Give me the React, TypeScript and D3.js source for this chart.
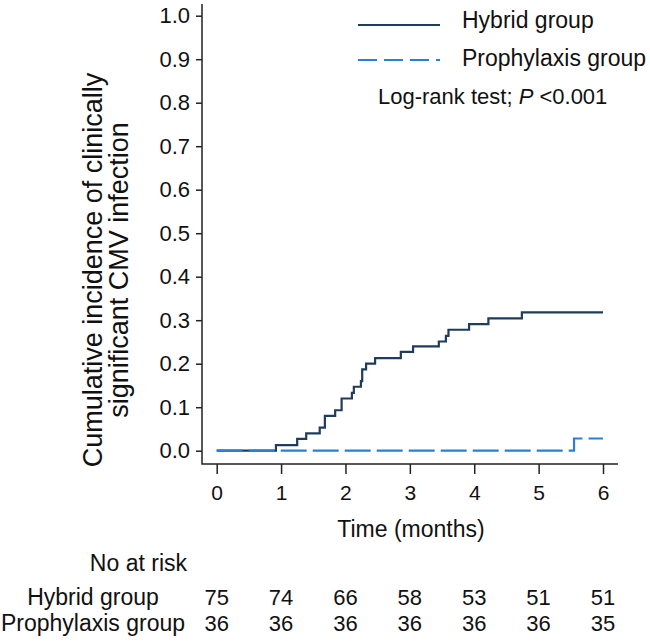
import * as d3 from 'd3';
import React, { useEffect, useRef } from 'react';

const hybridTime = [0, 0.92, 1.25, 1.39, 1.6, 1.68, 1.84, 1.94, 2.1, 2.13, 2.24, 2.26, 2.32, 2.46, 2.86, 3.05, 3.45, 3.56, 3.6, 3.92, 4.22, 4.74, 6];
const hybridValue = [0, 0.013, 0.027, 0.04, 0.053, 0.08, 0.093, 0.12, 0.133, 0.147, 0.16, 0.187, 0.2, 0.213, 0.227, 0.24, 0.251, 0.264, 0.278, 0.291, 0.304, 0.318, 0.318];
const prophTime = [0, 5.55, 6];
const prophValue = [0, 0.028, 0.028];

const timeTicks = [0, 1, 2, 3, 4, 5, 6];
const riskHybrid = [75, 74, 66, 58, 53, 51, 51];
const riskProph = [36, 36, 36, 36, 36, 36, 35];

const W = 650;
const H = 642;
const FONT = '"Liberation Sans", Arial, sans-serif';
const INK = '#111';
const NAVY = '#1f3b5e';
const BLUE = '#2a80d6';

const App = () => {
    const svgRef = useRef<SVGSVGElement | null>(null);

    useEffect(() => {
        const svg = d3.select(svgRef.current);
        svg.selectAll('*').remove();

        const x = d3.scaleLinear().domain([0, 6]).range([216.7, 603]);
        const y = d3.scaleLinear().domain([0, 1]).range([450.7, 15.7]);
        const axisX = 202;
        const axisY = 464;

        const txt = (sel: any, size: number) =>
            sel.attr('font-family', FONT).attr('font-size', size).attr('fill', INK);

        // y axis
        svg.append('g')
            .attr('transform', `translate(${axisX},0)`)
            .call(
                d3
                    .axisLeft(y)
                    .ticks(10)
                    .tickSize(6)
                    .tickPadding(6)
                    .tickFormat(d3.format('.1f')),
            )
            .call((g) => g.select('.domain').remove())
            .call((g) => txt(g.selectAll('text'), 22))
            .call((g) => g.selectAll('line').attr('stroke', '#222').attr('stroke-width', 1.5));

        // x axis
        svg.append('g')
            .attr('transform', `translate(0,${axisY})`)
            .call(
                d3
                    .axisBottom(x)
                    .tickValues(timeTicks)
                    .tickSize(10)
                    .tickPadding(11)
                    .tickFormat(d3.format('d')),
            )
            .call((g) => g.select('.domain').remove())
            .call((g) => txt(g.selectAll('text'), 21))
            .call((g) => g.selectAll('line').attr('stroke', '#222').attr('stroke-width', 1.5));

        svg.append('path')
            .attr('d', `M${axisX},4V${axisY}H618`)
            .attr('fill', 'none')
            .attr('stroke', '#222')
            .attr('stroke-width', 1.5);

        const step = (t: number[], v: number[]) =>
            d3
                .line<number>()
                .x((_, i) => x(t[i]))
                .y((_, i) => y(v[i]))
                .curve(d3.curveStepAfter)(t);

        svg.append('path')
            .attr('d', step(hybridTime, hybridValue))
            .attr('fill', 'none')
            .attr('stroke', NAVY)
            .attr('stroke-width', 2.2);

        svg.append('path')
            .attr('d', step(prophTime, prophValue))
            .attr('fill', 'none')
            .attr('stroke', BLUE)
            .attr('stroke-width', 2.2)
            .attr('stroke-dasharray', '26,6');

        // y label
        const yl = txt(svg.append('text'), 27)
            .attr('transform', `translate(102,270) rotate(-90)`)
            .attr('text-anchor', 'middle');
        yl.append('tspan').attr('x', 0).attr('dy', 0).text('Cumulative incidence of clinically');
        yl.append('tspan').attr('x', 0).attr('dy', 26).text('significant CMV infection');

        // legend
        svg.append('line')
            .attr('x1', 358).attr('x2', 440).attr('y1', 25).attr('y2', 25)
            .attr('stroke', NAVY).attr('stroke-width', 2.2);
        svg.append('line')
            .attr('x1', 358).attr('x2', 440).attr('y1', 60).attr('y2', 60)
            .attr('stroke', BLUE).attr('stroke-width', 2.2)
            .attr('stroke-dasharray', '19,7');
        const legText = [
            { t: 'Hybrid group', y: 28 },
            { t: 'Prophylaxis group', y: 66 },
        ];
        txt(
            svg.selectAll('.leg').data(legText).join('text'),
            23,
        )
            .attr('x', 462)
            .attr('y', (d: any) => d.y)
            .text((d: any) => d.t);

        const lr = txt(svg.append('text'), 22).attr('x', 378).attr('y', 104);
        lr.append('tspan').text('Log-rank test; ');
        lr.append('tspan').attr('font-style', 'italic').text('P');
        lr.append('tspan').text(' <0.001');

        // axis title
        txt(svg.append('text'), 23)
            .attr('x', 411)
            .attr('y', 537)
            .attr('text-anchor', 'middle')
            .text('Time (months)');

        // number at risk
        txt(svg.append('text'), 23)
            .attr('x', 187)
            .attr('y', 571)
            .attr('text-anchor', 'end')
            .text('No at risk');

        const rows = [
            { label: 'Hybrid group', vals: riskHybrid, y: 605 },
            { label: 'Prophylaxis group', vals: riskProph, y: 631 },
        ];
        rows.forEach((r) => {
            txt(svg.append('text'), 23)
                .attr('x', 93)
                .attr('y', r.y)
                .attr('text-anchor', 'middle')
                .text(r.label);
            txt(svg.selectAll(null).data(r.vals).join('text'), 22)
                .attr('x', (_: number, i: number) => x(timeTicks[i]))
                .attr('y', r.y)
                .attr('text-anchor', 'middle')
                .text((d: number) => d);
        });
    });

    return (
        <svg
            ref={svgRef}
            width={W}
            height={H}
            style={{ position: 'absolute', left: 0, top: 0, background: '#fff' }}
        />
    );
};

export default App;
